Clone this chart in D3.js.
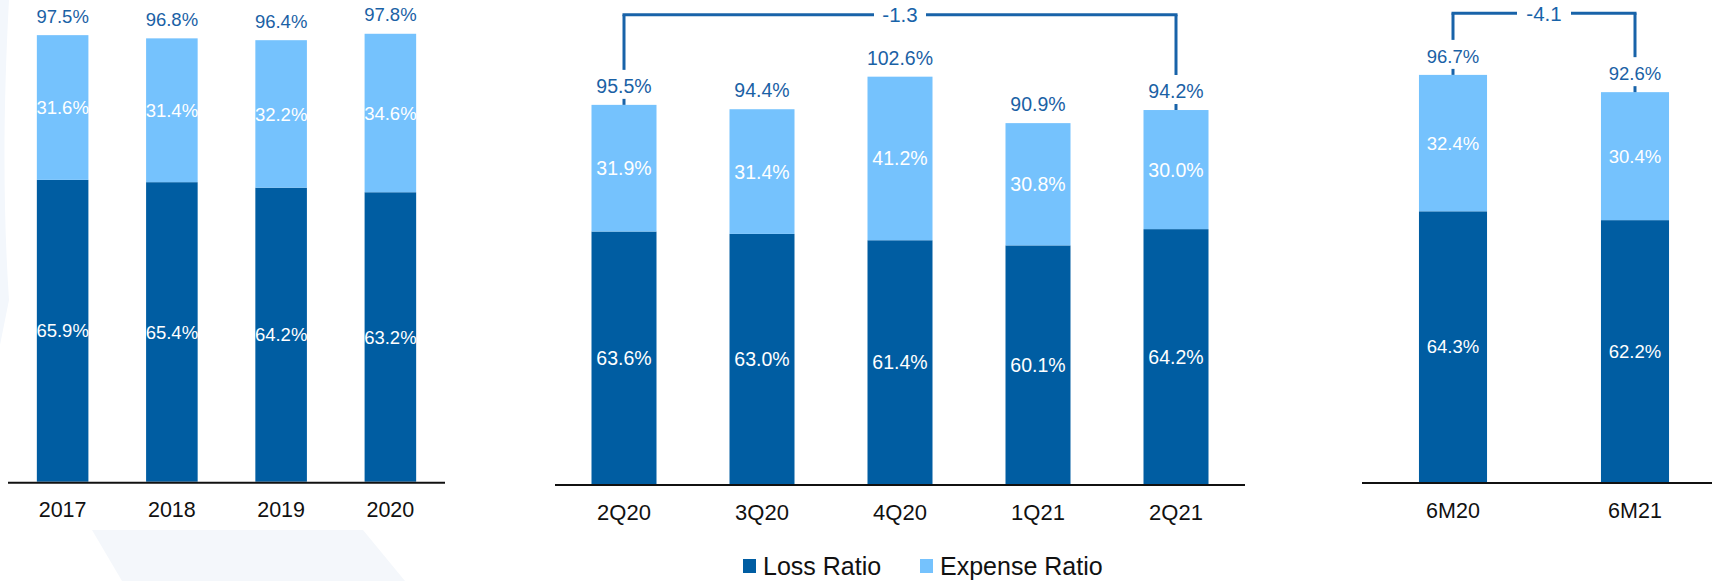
<!DOCTYPE html>
<html>
<head>
<meta charset="utf-8">
<script src="https://cdn.jsdelivr.net/npm/d3@7"></script>
<style>
  html, body { margin: 0; padding: 0; background: #ffffff; }
  svg { display: block; font-family: "Liberation Sans", Arial, sans-serif; }
</style>
</head>
<body>
<svg id="chart" width="1712" height="581"></svg>
<script>
// ---------- data ----------
const seriesNames = ["Loss Ratio", "Expense Ratio"];

const annualCategories = ["2017", "2018", "2019", "2020"];
const annualLoss = [65.9, 65.4, 64.2, 63.2];
const annualExpense = [31.6, 31.4, 32.2, 34.6];

const quarterCategories = ["2Q20", "3Q20", "4Q20", "1Q21", "2Q21"];
const quarterLoss = [63.6, 63.0, 61.4, 60.1, 64.2];
const quarterExpense = [31.9, 31.4, 41.2, 30.8, 30.0];

const halfCategories = ["6M20", "6M21"];
const halfLoss = [64.3, 62.2];
const halfExpense = [32.4, 30.4];

const quarterChange = { from: "2Q20", to: "2Q21", label: "-1.3" };
const halfChange = { from: "6M20", to: "6M21", label: "-4.1" };

// ---------- styles / layout ----------
const DARK = "#005da2";
const LIGHT = "#75c2fd";
const LABEL_BLUE = "#1a61a5";
const BRACKET = "#1863a9";

const svg = d3.select("#chart");

// faint background decorations
svg.append("path")
  .attr("d", "M0,0 L9,0 C3,110 3,210 9,300 L0,345 Z")
  .attr("fill", "#f3f7fc");
svg.append("path")
  .attr("d", "M92,530 L363,530 L405,581 L122,581 Z")
  .attr("fill", "#f4f7fb");

const panels = [
  { cats: annualCategories, loss: annualLoss, exp: annualExpense,
    range: [8, 445], padIn: 0.528, axis: [8, 445], base: 481.7, pxPct: 4.58,
    valSize: 18.5, catSize: 21.5, bracket: null },
  { cats: quarterCategories, loss: quarterLoss, exp: quarterExpense,
    range: [555, 1245], padIn: 0.529, axis: [555, 1245], base: 484, pxPct: 3.97,
    valSize: 19.5, catSize: 22,
    bracket: quarterChange, bracketY: 14.7, bracketGap: 26 },
  { cats: halfCategories, loss: halfLoss, exp: halfExpense,
    range: [1362, 1726], padIn: 0.626, axis: [1362, 1712], base: 482, pxPct: 4.21,
    valSize: 18.5, catSize: 21.5,
    bracket: halfChange, bracketY: 13.3, bracketGap: 27 }
];

panels.forEach(p => {
  const g = svg.append("g");
  const x = d3.scaleBand().domain(p.cats).range(p.range)
    .paddingInner(p.padIn).paddingOuter(p.padIn / 2);
  const y = d3.scaleLinear().domain([0, 100]).range([p.base, p.base - 100 * p.pxPct]);
  const bw = x.bandwidth();

  const rows = p.cats.map((c, i) => ({ cat: c, loss: p.loss[i], exp: p.exp[i], total: p.loss[i] + p.exp[i] }));
  const stack = d3.stack().keys(["loss", "exp"])(rows);
  const colors = [DARK, LIGHT];

  stack.forEach((layer, li) => {
    g.append("g").selectAll("rect").data(layer).join("rect")
      .attr("x", d => x(d.data.cat))
      .attr("width", bw)
      .attr("y", d => y(d[1]))
      .attr("height", d => y(d[0]) - y(d[1]))
      .attr("fill", colors[li]);
  });

  const txt = (sel, cx, cy, size) => sel
    .attr("x", cx).attr("y", cy)
    .attr("text-anchor", "middle")
    .attr("dy", "0.36em")
    .attr("font-size", size);

  // inner labels
  stack.forEach((layer) => {
    layer.forEach(d => {
      const v = d[1] - d[0];
      txt(g.append("text"), x(d.data.cat) + bw / 2, (y(d[0]) + y(d[1])) / 2, p.valSize)
        .attr("fill", "#ffffff")
        .text(v.toFixed(1) + "%");
    });
  });

  // total labels
  const totalY = d => y(d.total) - 19;
  rows.forEach(d => {
    txt(g.append("text"), x(d.cat) + bw / 2, totalY(d), p.valSize)
      .attr("fill", LABEL_BLUE)
      .text(d.total.toFixed(1) + "%");
  });

  // baseline
  g.append("line")
    .attr("x1", p.axis[0]).attr("x2", p.axis[1])
    .attr("y1", p.base + 1).attr("y2", p.base + 1)
    .attr("stroke", "#111").attr("stroke-width", 2);

  // category axis
  const ax = g.append("g").attr("transform", `translate(0,${p.base})`)
    .call(d3.axisBottom(x).tickSize(0).tickPadding(0));
  ax.select(".domain").remove();
  ax.selectAll(".tick text")
    .attr("font-family", "'Liberation Sans', Arial, sans-serif")
    .attr("font-size", p.catSize)
    .attr("fill", "#111")
    .attr("y", 28).attr("dy", "0.36em");

  // change bracket
  if (p.bracket) {
    const a = rows.find(r => r.cat === p.bracket.from);
    const b = rows.find(r => r.cat === p.bracket.to);
    const xa = x(a.cat) + bw / 2, xb = x(b.cat) + bw / 2;
    const by = p.bracketY;
    const mid = (xa + xb) / 2;
    const line = (x1, y1, x2, y2) => g.append("line")
      .attr("x1", x1).attr("y1", y1).attr("x2", x2).attr("y2", y2)
      .attr("stroke", BRACKET).attr("stroke-width", 3);
    line(xa - 1.5, by, mid - p.bracketGap, by);
    line(mid + p.bracketGap, by, xb + 1.5, by);
    [a, b].forEach(r => {
      const cx = x(r.cat) + bw / 2;
      const ly = totalY(r);
      line(cx, by, cx, ly - 16);
      line(cx, ly + 13, cx, y(r.total));
    });
    g.append("text")
      .attr("x", mid).attr("y", by).attr("dy", "0.36em")
      .attr("text-anchor", "middle")
      .attr("font-size", 20.5)
      .attr("fill", BRACKET)
      .text(p.bracket.label);
  }
});

// legend
const legend = svg.append("g");
const legendX = [743, 920];
const legendColors = [DARK, LIGHT];
seriesNames.forEach((name, i) => {
  legend.append("rect")
    .attr("x", legendX[i]).attr("y", 559)
    .attr("width", 13).attr("height", 14)
    .attr("fill", legendColors[i]);
  legend.append("text")
    .attr("x", legendX[i] + 20).attr("y", 575)
    .attr("font-size", 25)
    .attr("fill", "#111")
    .text(name);
});
</script>
</body>
</html>
